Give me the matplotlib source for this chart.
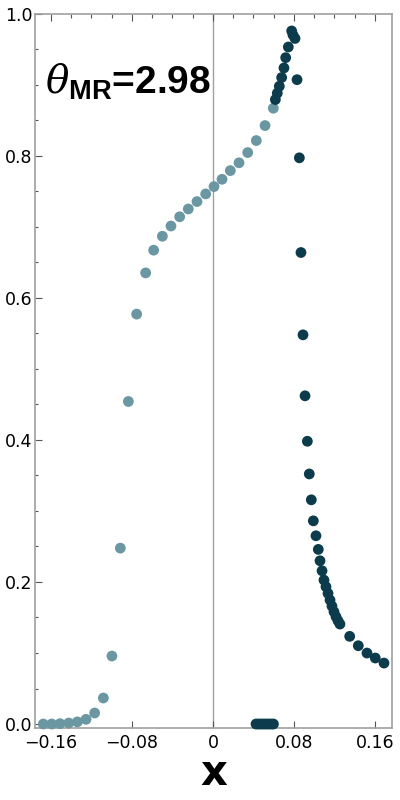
import numpy as np
import matplotlib
matplotlib.use("Agg")
import matplotlib.pyplot as plt
from matplotlib.ticker import MultipleLocator, FixedLocator

plt.rcParams['font.family'] = ['DejaVu Sans']
plt.rcParams['mathtext.fontset'] = 'custom'
plt.rcParams['mathtext.it'] = 'DejaVu Serif:italic'
plt.rcParams['mathtext.bf'] = 'Liberation Sans:bold'
plt.rcParams['mathtext.rm'] = 'Liberation Sans'

# light branch (left)
x_light = [-0.1676, -0.1593, -0.1511, -0.1425, -0.1340, -0.1254, -0.1169, -0.1083,
           -0.0998, -0.0915, -0.0836, -0.0754, -0.0665, -0.0586, -0.0500, -0.0415,
           -0.0329, -0.0244, -0.0158, -0.0072, 0.0010, 0.0089, 0.0171, 0.0257,
           0.0343, 0.0428, 0.0514, 0.0596]
y_light = [0.0, 0.0, 0.0005, 0.0014, 0.0030, 0.0066, 0.0155, 0.0366,
           0.0957, 0.2476, 0.454, 0.577, 0.635, 0.667, 0.6866, 0.701,
           0.714, 0.725, 0.7354, 0.7462, 0.7565, 0.7668, 0.779, 0.790,
           0.8044, 0.8213, 0.8424, 0.8668]

# dark branch (right)
x_dark = [0.0616, 0.0635, 0.0655, 0.0678, 0.0701, 0.0718, 0.0744, 0.0777, 0.0790,
          0.0810, 0.0830, 0.0853, 0.0869, 0.0889, 0.0909, 0.0932, 0.0951, 0.0971,
          0.0991, 0.1017, 0.1040, 0.1057, 0.1077, 0.1096, 0.1116, 0.1136, 0.1156,
          0.1175, 0.1195, 0.1215, 0.1235, 0.1254, 0.1350, 0.1435, 0.1521, 0.1603,
          0.1689]
y_dark = [0.879, 0.888, 0.8977, 0.910, 0.9235, 0.938, 0.953, 0.9756, 0.970,
          0.965, 0.907, 0.797, 0.6637, 0.5478, 0.462, 0.398, 0.352, 0.3156,
          0.286, 0.265, 0.2458, 0.2298, 0.2157, 0.2026, 0.1932, 0.1839, 0.1745,
          0.166, 0.158, 0.151, 0.1453, 0.1407, 0.1234, 0.1102, 0.0999, 0.0929,
          0.0858]
# dark points sitting at zero
x_dark0 = [0.0425, 0.0447, 0.0469, 0.0490, 0.0512, 0.0533, 0.0555, 0.0576, 0.0597]
y_dark0 = [0.0] * len(x_dark0)

xticks = [-0.16, -0.08, 0, 0.08, 0.16]
xticklabels = ['\u22120.16', '\u22120.08', '0', '0.08', '0.16']
yticks = [0.0, 0.2, 0.4, 0.6, 0.8, 1.0]

light = '#6b97a3'
dark = '#0c3c4c'
frame = '#a0a0a0'

fig = plt.figure(figsize=(4, 8), dpi=100)
ax = fig.add_axes([0.0875, 0.09, 0.8925, 0.893])

ax.axvline(0, color=frame, lw=1.0, zorder=1)
ax.scatter(x_light, y_light, s=60, color=light, edgecolors='none', zorder=3, clip_on=False)
ax.scatter(x_dark, y_dark, s=60, color=dark, edgecolors='none', zorder=3, clip_on=False)
ax.scatter(x_dark0, y_dark0, s=60, color=dark, edgecolors='none', zorder=3, clip_on=False)

ax.set_xlim(-0.1758, 0.1768)
ax.set_ylim(-0.0056, 1.0)

for s in ax.spines.values():
    s.set_color(frame)
    s.set_linewidth(1.2)

ax.set_xticks(xticks)
ax.set_xticklabels(xticklabels)
ax.set_yticks(yticks)
ax.set_yticklabels(['0.0', '0.2', '0.4', '0.6', '0.8', '1.0'])
ax.yaxis.set_minor_locator(MultipleLocator(0.05))
ax.xaxis.set_minor_locator(FixedLocator(np.arange(-0.16, 0.1601, 0.02)))

ax.tick_params(axis='both', which='both', direction='in', color='#555555',
               labelsize=12.5, width=0.8)
ax.tick_params(axis='x', which='major', length=5, pad=4, top=True)
ax.tick_params(axis='x', which='minor', length=3, top=True, bottom=False)
ax.tick_params(axis='y', which='major', length=5, pad=2)
ax.tick_params(axis='y', which='minor', length=2.5)

ax.set_xlabel('x', fontsize=30, fontweight='bold', labelpad=0)

ax.text(0.028, 0.906, r'$\theta_{\mathbf{MR}}$=2.98', transform=ax.transAxes,
        fontsize=28, fontweight='bold', family='Liberation Sans',
        ha='left', va='center')

fig.savefig('out.png', dpi=100)
